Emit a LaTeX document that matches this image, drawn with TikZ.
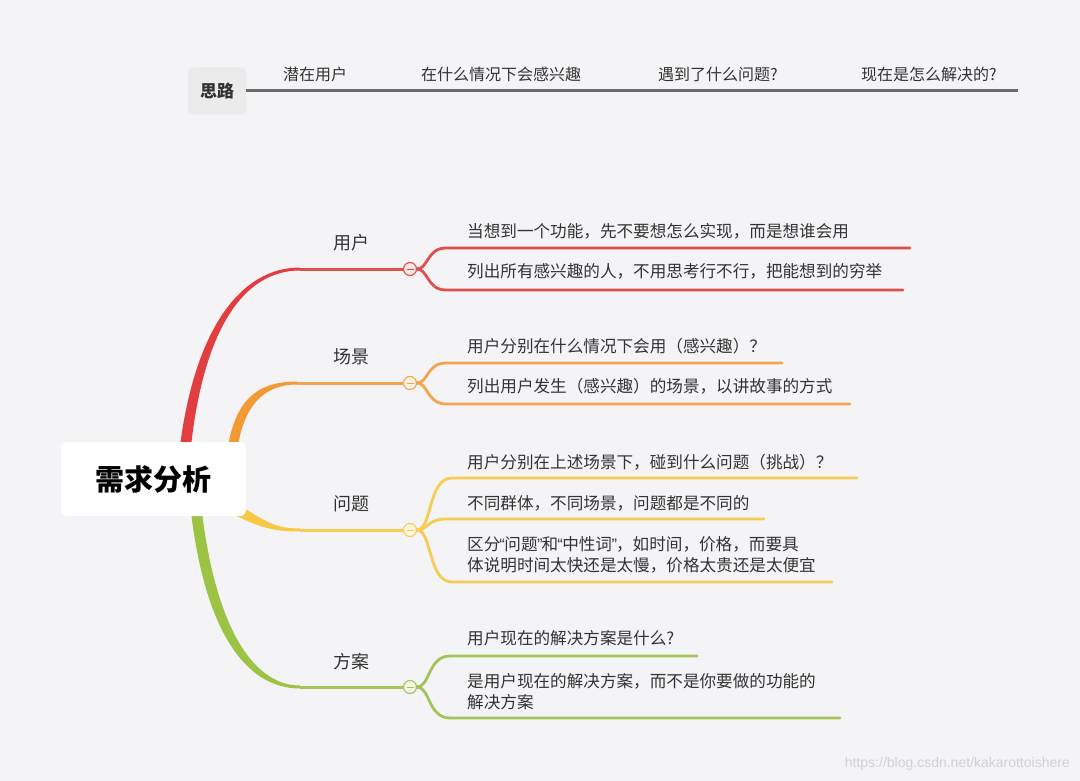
\documentclass[tikz,border=0pt]{standalone}
\usepackage{fontspec}
\setmainfont{Noto Sans CJK SC}
\newfontfamily\wmfont{Liberation Sans}
\newcommand{\myLq}{\kern-1pt{\wmfont “}\kern-0.5pt}
\newcommand{\myRq}{\kern-0.5pt{\wmfont ”}\kern-1pt}
\definecolor{bg}{HTML}{F4F4F7}
\definecolor{txt}{HTML}{333333}
\definecolor{cred}{HTML}{E23E3F}
\definecolor{cora}{HTML}{F29A34}
\definecolor{cyel}{HTML}{F6C843}
\definecolor{cgrn}{HTML}{9DC344}
\definecolor{sred}{HTML}{E04F4F}
\definecolor{sora}{HTML}{F2A54C}
\definecolor{syel}{HTML}{F6CC52}
\definecolor{sgrn}{HTML}{A3C45A}
\definecolor{topline}{HTML}{6B6B6B}
\tikzset{
  leaf/.style={anchor=west,inner sep=0pt,text=txt,font=\fontsize{16.6}{21}\selectfont,align=left},
  toplabel/.style={inner sep=0pt,text=txt,font=\fontsize{16}{20}\selectfont},
  branchlabel/.style={inner sep=0pt,text=txt,font=\fontsize{18}{22}\selectfont},
  sub/.style={draw=#1,line width=2.8pt,line cap=round},
  circ/.style={circle,minimum size=13pt,inner sep=0pt,draw=#1,line width=1.1pt,fill=white!85!#1,
    path picture={\draw[#1,line width=1pt] ([xshift=-3.5pt]path picture bounding box.center) -- ([xshift=3.5pt]path picture bounding box.center);}},
}
\begin{document}
\begin{tikzpicture}[x=1pt,y=-1pt]
\fill[bg] (0,0) rectangle (1080,781);
\useasboundingbox (0,0) rectangle (1080,781);

% top guide
\node[fill=black!8,rounded corners=5pt,minimum width=58pt,minimum height=47pt,inner sep=0pt,
      font=\fontsize{17}{20}\selectfont\bfseries,text=txt] (silu) at (217,91) {思路};
\coordinate (tend) at (1018,91);
\draw[topline,line width=3pt] (silu.east) -- (tend);
\node[toplabel] (t1) at (315,74) {潜在用户};
\node[toplabel] (t2) at (501,74) {在什么情况下会感兴趣};
\node[toplabel] (t3) at (718,74) {遇到了什么问题?};
\node[toplabel] (t4) at (929,74) {现在是怎么解决的?};

% circles
\node[circ=sred] (c1) at (410,269) {};
\node[circ=sora] (c2) at (410,383) {};
\node[circ=syel] (c3) at (410,530) {};
\node[circ=sgrn] (c4) at (410,687) {};

% main branches (tapered)
\fill[cred] (180,446) .. controls (195,330) and (240,267.5) .. (300,267.5) -- (300,270.5) .. controls (243,270.5) and (204,330) .. (191,446) -- cycle;
\draw[sred,line width=3pt] (300,269) -- (c1.west);
\fill[cora] (228,446) .. controls (236,402) and (255,381.5) .. (297,381.5) -- (297,384.5) .. controls (262,384.5) and (244,408) .. (238,446) -- cycle;
\draw[sora,line width=3pt] (297,383) -- (c2.west);
\fill[cyel] (235,503) .. controls (265,520) and (272,528.5) .. (300,528.5) -- (300,531.5) .. controls (270,531.5) and (258,526) .. (232,514) -- cycle;
\draw[syel,line width=3pt] (300,530) -- (c3.west);
\fill[cgrn] (191,512) .. controls (205,630) and (245,688.5) .. (300,688.5) -- (300,685.5) .. controls (250,685.5) and (215,620) .. (202,512) -- cycle;
\draw[sgrn,line width=3pt] (300,687) -- (c4.west);

% root
\node[fill=white,rounded corners=6pt,minimum width=185pt,minimum height=74pt,inner sep=0pt,
      font=\fontsize{29}{32}\selectfont\bfseries,text=black] (root) at (153.5,479) {需求分析};

% branch labels
\node[branchlabel] (l1) at (351,243) {用户};
\node[branchlabel] (l2) at (351,357) {场景};
\node[branchlabel] (l3) at (351,504) {问题};
\node[branchlabel] (l4) at (351,662) {方案};

% sub-branch end points
\coordinate (e11) at (910,248);
\coordinate (e12) at (903,290);
\coordinate (e21) at (782,363);
\coordinate (e22) at (850,404);
\coordinate (e31) at (857,478);
\coordinate (e32) at (764,519);
\coordinate (e33) at (832,582);
\coordinate (e41) at (697,656);
\coordinate (e42) at (840,718);

\draw[sub=sred] (c1.east) .. controls (428,269) and (427,248) .. (446,248) -- (e11);
\draw[sub=sred] (c1.east) .. controls (428,269) and (427,290) .. (446,290) -- (e12);
\draw[sub=sora] (c2.east) .. controls (428,383) and (427,363) .. (446,363) -- (e21);
\draw[sub=sora] (c2.east) .. controls (428,383) and (427,404) .. (446,404) -- (e22);
\draw[sub=syel] (c3.east) .. controls (432,530) and (428,478) .. (452,478) -- (e31);
\draw[sub=syel] (c3.east) .. controls (428,530) and (427,519) .. (446,519) -- (e32);
\draw[sub=syel] (c3.east) .. controls (432,530) and (428,582) .. (452,582) -- (e33);
\draw[sub=sgrn] (c4.east) .. controls (430,687) and (428,656) .. (450,656) -- (e41);
\draw[sub=sgrn] (c4.east) .. controls (430,687) and (428,718) .. (450,718) -- (e42);

% leaf texts
\node[leaf] (s11) at (467,231) {当想到一个功能，先不要想怎么实现，而是想谁会用};
\node[leaf] (s12) at (467,271) {列出所有感兴趣的人，不用思考行不行，把能想到的穷举};
\node[leaf] (s21) at (467,346) {用户分别在什么情况下会用（感兴趣）？};
\node[leaf] (s22) at (467,386) {列出用户发生（感兴趣）的场景，以讲故事的方式};
\node[leaf] (s31) at (467,462) {用户分别在上述场景下，碰到什么问题（挑战）？};
\node[leaf] (s32) at (467,503) {不同群体，不同场景，问题都是不同的};
\node[leaf] (s33) at (467,554.5) {区分\myLq 问题\myRq 和\myLq 中性词\myRq ，如时间，价格，而要具\\体说明时间太快还是太慢，价格太贵还是太便宜};
\node[leaf] (s41) at (467,638) {用户现在的解决方案是什么?};
\node[leaf] (s42) at (467,691.5) {是用户现在的解决方案，而不是你要做的功能的\\解决方案};

% watermark
\node[anchor=east,inner sep=0pt,text=black!18,font=\wmfont\fontsize{14}{16}\selectfont] (wm) at (1070,764) {https://blog.csdn.net/kakarottoishere};
\end{tikzpicture}
\end{document}
